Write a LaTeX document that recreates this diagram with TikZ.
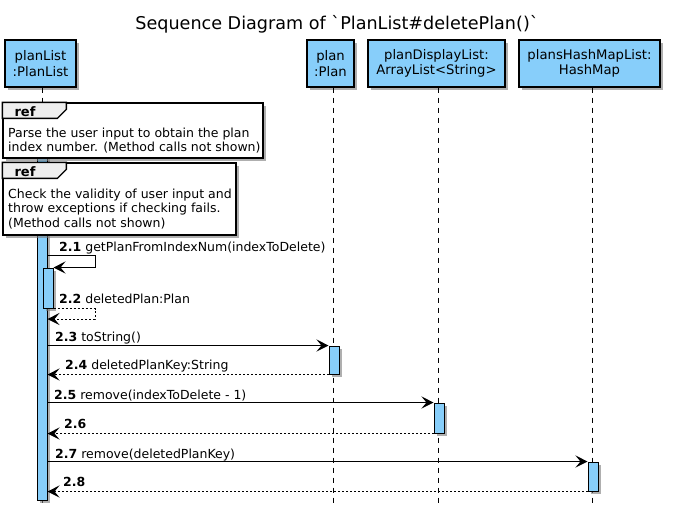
\documentclass[tikz,border=0pt]{standalone}
\usepackage{fontspec}
\setmainfont{DejaVu Sans}
\usetikzlibrary{arrows.meta,shadows}
\definecolor{pblue}{HTML}{87CEFA}
\definecolor{shad}{HTML}{7A7A7A}
\definecolor{tabgray}{HTML}{EEEEEE}
\tikzset{
 shd/.style={drop shadow={shadow xshift=2.5pt, shadow yshift=-2.5pt, fill=shad, opacity=0.6}},
 part/.style={draw, line width=1.3pt, fill=pblue, align=center, inner sep=0pt, font=\fontsize{13.2}{15.5}\selectfont, shd},
 life/.style={line width=0.8pt, dash pattern=on 5pt off 5pt},
 actbar/.style={draw, line width=1pt, fill=pblue, minimum width=10pt, inner sep=0pt, shd},
 refbox/.style={draw, line width=1.3pt, fill=white, inner sep=0pt, shd},
 reftab/.style={draw, line width=1.3pt, fill=tabgray},
 reftag/.style={anchor=base west, inner sep=0pt, font=\fontsize{13}{15}\selectfont\bfseries},
 reftxt/.style={anchor=north west, align=left, inner sep=0pt, font=\fontsize{12.5}{14.7}\selectfont},
 msg/.style={line width=0.9pt, -{Stealth[length=12pt,width=12pt,inset=5pt]}},
 ret/.style={msg, dash pattern=on 2pt off 2pt},
 lbl/.style={anchor=base west, inner sep=0pt, font=\fontsize{12.5}{15}\selectfont},
}
\begin{document}
\begin{tikzpicture}[x=1pt,y=-1pt]
\useasboundingbox (0,0) rectangle (673,515);
% title
\node[inner sep=0pt, anchor=base, font=\fontsize{17.6}{20}\selectfont] (title) at (337,29) {Sequence Diagram of \textasciigrave PlanList\#deletePlan()\textasciigrave};
% participants
\node[part, minimum width=71pt, minimum height=47pt] (pl) at (40.5,63.5) {planList\\:PlanList};
\node[part, minimum width=47pt, minimum height=47pt] (p) at (330.5,63.5) {plan\\:Plan};
\node[part, minimum width=137pt, minimum height=47pt] (pd) at (436.5,63.5) {planDisplayList:\\ArrayList<String>};
\node[part, minimum width=141pt, minimum height=47pt] (ph) at (589.5,63.5) {plansHashMapList:\\HashMap};
% lifeline ends
\coordinate (plE) at (42,507);
\coordinate (pE) at (333,507);
\coordinate (pdE) at (438,507);
\coordinate (phE) at (592,507);
\draw[life] (pl.south -| plE) -- (plE);
\draw[life] (p.south -| pE) -- (pE);
\draw[life] (pd.south -| pdE) -- (pdE);
\draw[life] (ph.south -| phE) -- (phE);
% activation bars
\node[actbar, minimum height=345pt] (main) at (42,327.5) {};
% ref boxes
\node[refbox, minimum width=260pt, minimum height=55pt] (r1) at (133,130.5) {};
\draw[reftab] (r1.north west) -- ++(64,0) -- ++(0,7) -- ++(-9,9) -- ++(-55,0) -- cycle;
\node[reftag] (r1tag) at ([shift={(12,14)}]r1.north west) {ref};
\node[reftxt] (r1txt) at (8,127.5) {Parse the user input to obtain the plan\\index number. (Method calls not shown)};
\node[refbox, minimum width=233pt, minimum height=72pt] (r2) at (119.5,199) {};
\draw[reftab] (r2.north west) -- ++(64,0) -- ++(0,7) -- ++(-9,9) -- ++(-55,0) -- cycle;
\node[reftag] (r2tag) at ([shift={(12,14)}]r2.north west) {ref};
\node[reftxt] (r2txt) at (8,188.5) {Check the validity of user input and\\throw exceptions if checking fails.\\(Method calls not shown)};
% inner and callee bars
\node[actbar, minimum height=40pt] (inner) at (48,288) {};
\node[actbar, minimum height=28pt] (b23) at (334,360) {};
\node[actbar, minimum height=30pt] (b25) at (439,418) {};
\node[actbar, minimum height=29pt] (b27) at (593,476.5) {};
% messages
\coordinate (s21) at (95,255);
\draw[msg] (main.east |- s21) -- (s21) |- (inner.north east);
\node[lbl] (l21) at (59,251) {\textbf{2.1} getPlanFromIndexNum(indexToDelete)};
\coordinate (s22) at (95,319);
\draw[ret] (inner.south east) -| (s22) -- (main.east |- s22);
\node[lbl] (l22) at (59,303) {\textbf{2.2} deletedPlan:Plan};
\draw[msg] (main.east |- b23.north) -- (b23.north west);
\node[lbl] (l23) at (55,341) {\textbf{2.3} toString()};
\draw[ret] (b23.south west) -- (main.east |- b23.south);
\node[lbl] (l24) at (65,369) {\textbf{2.4} deletedPlanKey:String};
\draw[msg] (main.east |- b25.north) -- (b25.north west);
\node[lbl] (l25) at (54,399) {\textbf{2.5} remove(indexToDelete - 1)};
\draw[ret] (b25.south west) -- (main.east |- b25.south);
\node[lbl] (l26) at (64,428) {\textbf{2.6}};
\draw[msg] (main.east |- b27.north) -- (b27.north west);
\node[lbl] (l27) at (55,458) {\textbf{2.7} remove(deletedPlanKey)};
\draw[ret] (b27.south west) -- (main.east |- b27.south);
\node[lbl] (l28) at (63,486) {\textbf{2.8}};
\end{tikzpicture}
\end{document}
